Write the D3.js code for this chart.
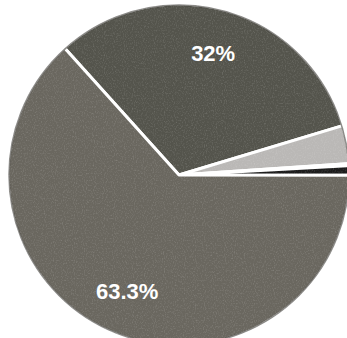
<!DOCTYPE html>
<html>
<head>
<meta charset="utf-8">
<script src="https://cdn.jsdelivr.net/npm/d3@7"></script>
<style>
  body { margin: 0; background: #fff; }
  .label { font-family: "Liberation Sans", Arial, sans-serif; font-weight: bold; fill: #fff; }
</style>
</head>
<body>
<svg width="347" height="338"></svg>
<script>
// slices, in drawing order (clockwise)
var categories = ["a", "b", "c", "d", "e"];
var values = [32, 3.6, 0.2, 0.9, 63.3];
var labels = ["32%", "", "", "", "63.3%"];
var colors = ["#54544c", "#bab8b6", "#ffffff", "#1c1c1c", "#6a675f"];

var svg = d3.select("svg"),
    cx = 179, cy = 175,
    radius = 171;

var data = categories.map(function(c, i) {
  return {cat: c, value: values[i], label: labels[i], color: colors[i]};
});

var pie = d3.pie()
    .value(d => d.value)
    .sort(null)
    .startAngle(-42 * Math.PI / 180)
    .endAngle((360 - 42) * Math.PI / 180);

var arc = d3.arc().innerRadius(0).outerRadius(radius);
var labelArc = d3.arc().innerRadius(127).outerRadius(127);

// grainy print texture
var defs = svg.append("defs");
var f = defs.append("filter").attr("id", "grain")
    .attr("x", 0).attr("y", 0).attr("width", "100%").attr("height", "100%");
f.append("feTurbulence").attr("type", "fractalNoise")
    .attr("baseFrequency", "0.9 0.6").attr("numOctaves", 2).attr("seed", 3);
f.append("feColorMatrix").attr("type", "matrix")
    .attr("values", "0 0 0 0 1  0 0 0 0 1  0 0 0 0 1  0 0 0 1.6 -0.75");
defs.append("clipPath").attr("id", "pieclip")
  .append("circle").attr("cx", cx).attr("cy", cy).attr("r", radius);

var g = svg.append("g")
    .attr("transform", "translate(" + cx + "," + cy + ")");

g.selectAll("path").data(pie(data)).enter().append("path")
    .attr("d", arc)
    .attr("fill", d => d.data.color)
    .attr("stroke", "#fff")
    .attr("stroke-width", 3)
    .attr("stroke-linejoin", "round");

svg.append("rect")
    .attr("width", 347).attr("height", 338)
    .attr("clip-path", "url(#pieclip)")
    .attr("filter", "url(#grain)")
    .attr("opacity", 0.22);

// thin dark rim, like the printed edge
g.append("circle")
    .attr("r", radius - 1)
    .attr("fill", "none")
    .attr("stroke", "#3c3b36")
    .attr("stroke-width", 1.5)
    .attr("opacity", 0.6);

g.selectAll("text").data(pie(data).filter(d => d.data.label)).enter().append("text")
    .attr("class", "label")
    .attr("transform", d => "translate(" + labelArc.centroid(d) + ")")
    .attr("text-anchor", "middle")
    .attr("dy", "0.36em")
    .attr("font-size", 22)
    .text(d => d.data.label);
</script>
</body>
</html>
